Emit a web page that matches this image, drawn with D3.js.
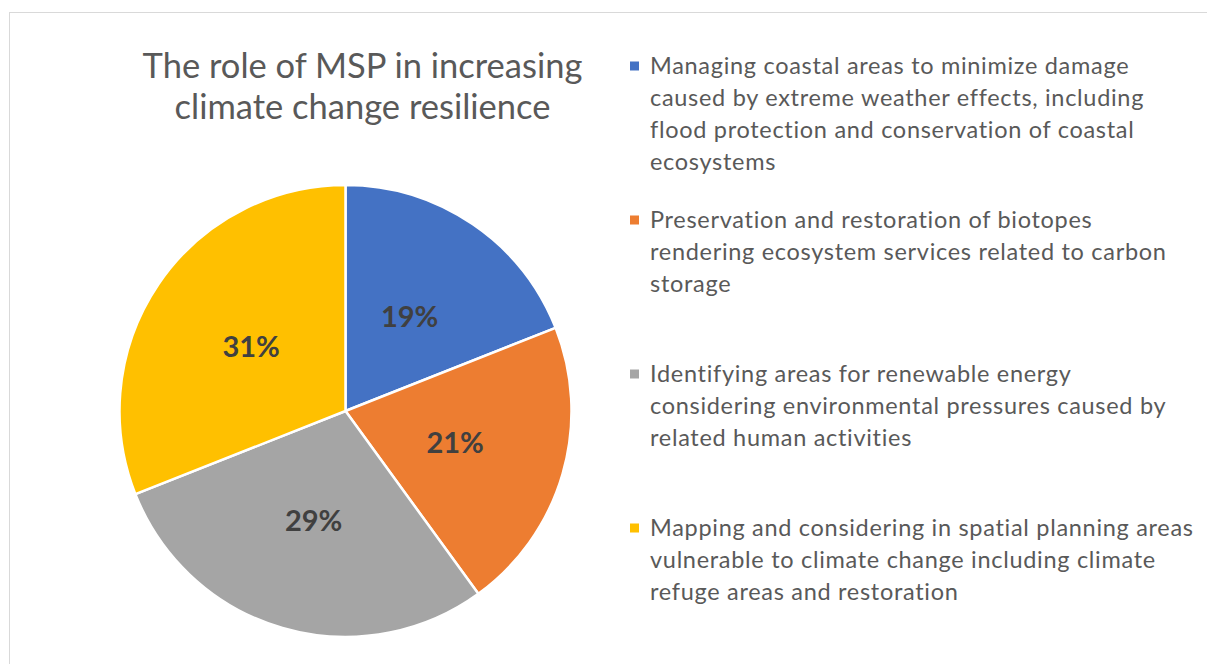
<!DOCTYPE html>
<html>
<head>
<meta charset="utf-8">
<script src="https://cdn.jsdelivr.net/npm/d3@7"></script>
<style>
  body { margin: 0; background: #fff; }
  svg text { font-family: Lato, "Open Sans", sans-serif; }
</style>
</head>
<body>
<div id="canvas"></div>
<script>
const titleLines = ["The role of MSP in increasing", "climate change resilience"];

const categories = [
  "Managing coastal areas to minimize damage caused by extreme weather effects, including flood protection and conservation of coastal ecosystems",
  "Preservation and restoration of biotopes rendering ecosystem services related to carbon storage",
  "Identifying areas for renewable energy considering environmental pressures caused by related human activities",
  "Mapping and considering in spatial planning areas vulnerable to climate change including climate refuge areas and restoration"
];
// legend wrapping as in the original
const legendLines = [
  ["Managing coastal areas to minimize damage", "caused by extreme weather effects, including", "flood protection and conservation of coastal", "ecosystems"],
  ["Preservation and restoration of biotopes", "rendering ecosystem services related to carbon", "storage"],
  ["Identifying areas for renewable energy", "considering environmental pressures caused by", "related human activities"],
  ["Mapping and considering in spatial planning areas", "vulnerable to climate change including climate", "refuge areas and restoration"]
];
const values = [19, 21, 29, 31];
const colors = ["#4472C4", "#ED7D31", "#A5A5A5", "#FFC000"];

const W = 1207, H = 664;
const cx = 345.5, cy = 411, radius = 226;

let svg = d3.select("#canvas").append("svg")
  .attr("width", W)
  .attr("height", H);

// chart area border
svg.append("rect")
  .attr("x", 9.5).attr("y", 12.5)
  .attr("width", W + 20).attr("height", H + 20)
  .attr("fill", "none")
  .attr("stroke", "#d9d9d9")
  .attr("stroke-width", 1);

// title
svg.append("text")
  .attr("text-anchor", "middle")
  .attr("fill", "#595959")
  .style("font-size", "34.5px")
  .selectAll("tspan")
  .data(titleLines)
  .enter()
  .append("tspan")
  .attr("x", 362.5)
  .attr("y", (d, i) => 77.5 + i * 41)
  .text(d => d);

// pie
let color = d3.scaleOrdinal().domain(categories).range(colors);
let pie = d3.pie().sort(null).value(d => d.value);
let arcs = pie(categories.map((c, i) => ({ cat: c, value: values[i] })));
let arc = d3.arc().innerRadius(0).outerRadius(radius);
let labelArc = d3.arc().innerRadius(radius * 0.505).outerRadius(radius * 0.505);

let g = svg.append("g").attr("transform", "translate(" + cx + "," + cy + ")");

g.selectAll(".slice")
  .data(arcs)
  .enter()
  .append("path")
  .attr("class", "slice")
  .attr("d", arc)
  .attr("fill", d => color(d.data.cat))
  .attr("stroke", "#fff")
  .attr("stroke-width", 2.5)
  .attr("stroke-linejoin", "round");

g.selectAll(".pct")
  .data(arcs)
  .enter()
  .append("text")
  .attr("class", "pct")
  .attr("transform", d => "translate(" + labelArc.centroid(d) + ")")
  .attr("text-anchor", "middle")
  .attr("dy", "0.36em")
  .attr("fill", "#404040")
  .style("font-size", "29px")
  .style("font-weight", "bold")
  .text(d => d.data.value + "%");

// legend
let legend = svg.selectAll(".legend")
  .data(categories)
  .enter()
  .append("g")
  .attr("class", "legend")
  .attr("transform", (d, i) => "translate(630," + (73.5 + i * 154) + ")");

legend.append("rect")
  .attr("x", 0)
  .attr("y", -12)
  .attr("width", 9)
  .attr("height", 9)
  .attr("fill", d => color(d));

legend.append("text")
  .attr("fill", "#595959")
  .style("font-size", "23.5px")
  .style("letter-spacing", "0.7px")
  .selectAll("tspan")
  .data((d, i) => legendLines[i])
  .enter()
  .append("tspan")
  .attr("x", 20)
  .attr("y", (d, i) => i * 32.3)
  .text(d => d);
</script>
</body>
</html>
